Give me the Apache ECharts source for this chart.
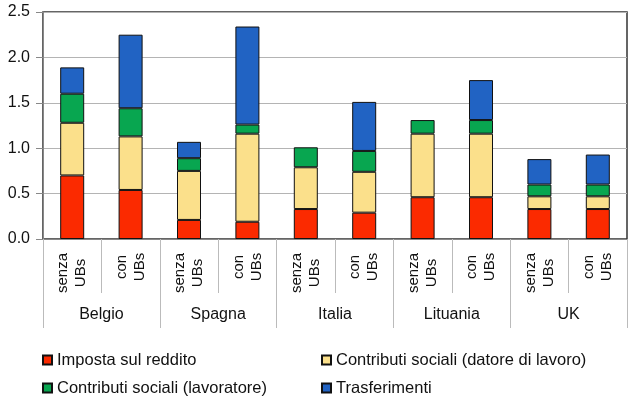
<!DOCTYPE html>
<html>
<head>
<meta charset="utf-8">
<script src="https://cdn.jsdelivr.net/npm/echarts@6/dist/echarts.min.js"></script>
<style>
  html, body { margin: 0; padding: 0; background: #fff; }
  #chart { width: 632px; height: 398px; }
</style>
</head>
<body>
<div id="chart"></div>
<script>
var categories = ["senza UBs", "con UBs", "senza UBs", "con UBs", "senza UBs", "con UBs", "senza UBs", "con UBs", "senza UBs", "con UBs"];
var countries = ["Belgio", "Spagna", "Italia", "Lituania", "UK"];
var yTicks = [0, 0.5, 1.0, 1.5, 2.0, 2.5];

var imposta = [0.70, 0.54, 0.21, 0.19, 0.33, 0.29, 0.46, 0.46, 0.33, 0.33];
var datore = [0.58, 0.59, 0.54, 0.97, 0.46, 0.45, 0.70, 0.70, 0.14, 0.14];
var lavoratore = [0.32, 0.31, 0.14, 0.10, 0.22, 0.23, 0.15, 0.15, 0.13, 0.13];
var trasferimenti = [0.29, 0.81, 0.18, 1.08, null, 0.54, null, 0.44, 0.28, 0.33];

var font = "Liberation Sans";
var chart = echarts.init(document.getElementById("chart"));

function bar(name, data, color) {
  return {
    name: name,
    type: "bar",
    stack: "tot",
    barWidth: 24,
    data: data,
    itemStyle: { color: color, borderColor: "#111", borderWidth: 1 },
    animation: false
  };
}

// one legend per item so the two columns line up like the original
function legendItem(name, left, top) {
  return {
    left: left, top: top, padding: 0,
    itemWidth: 9, itemHeight: 9, icon: "rect",
    textStyle: { fontFamily: font, fontSize: 16.5, lineHeight: 18, color: "#111" },
    data: [name]
  };
}

chart.setOption({
  grid: {
    left: 43, right: 5, top: 12, bottom: 159,
    show: true, borderColor: "#333", borderWidth: 1.5
  },
  legend: [
    legendItem("Imposta sul reddito", 42, 351),
    legendItem("Contributi sociali (lavoratore)", 42, 379),
    legendItem("Contributi sociali (datore di lavoro)", 321, 351),
    legendItem("Trasferimenti", 321, 379)
  ],
  xAxis: [
    {
      type: "category",
      data: categories,
      axisLine: { lineStyle: { color: "#888" } },
      axisTick: { show: true, interval: 0, length: 54, lineStyle: { color: "#bbb" } },
      axisLabel: {
        interval: 0, rotate: 90, margin: 13,
        fontFamily: font, fontSize: 15, color: "#111",
        formatter: function (v) {
          var p = v.split(" ");
          var s = p[0] === "senza" ? "s" : "c";
          return "{" + s + "|" + p[0] + "}\n{" + s + "|" + p[1] + "}";
        },
        rich: {
          s: { width: 42, align: "center", lineHeight: 18, fontFamily: font, fontSize: 15, color: "#111" },
          c: { width: 30, align: "center", lineHeight: 18, fontFamily: font, fontSize: 15, color: "#111" }
        }
      }
    },
    {
      type: "category",
      position: "bottom",
      data: countries,
      axisLine: { show: false },
      axisTick: { show: true, interval: 0, length: 89, lineStyle: { color: "#bbb" } },
      axisLabel: { interval: 0, margin: 68, fontFamily: font, fontSize: 16, color: "#111" }
    }
  ],
  yAxis: {
    type: "value",
    min: yTicks[0],
    max: yTicks[yTicks.length - 1],
    interval: 0.5,
    axisLine: { show: true, lineStyle: { color: "#888" } },
    axisTick: { show: true, length: 7, lineStyle: { color: "#888" } },
    splitLine: { lineStyle: { color: "#b4b4b4" } },
    axisLabel: {
      margin: 13, fontFamily: font, fontSize: 16, color: "#111",
      formatter: function (v) { return v.toFixed(1); }
    }
  },
  series: [
    bar("Imposta sul reddito", imposta, "#fb2a00"),
    bar("Contributi sociali (datore di lavoro)", datore, "#fbe08b"),
    bar("Contributi sociali (lavoratore)", lavoratore, "#08a650"),
    bar("Trasferimenti", trasferimenti, "#2163c3")
  ]
});
</script>
</body>
</html>
